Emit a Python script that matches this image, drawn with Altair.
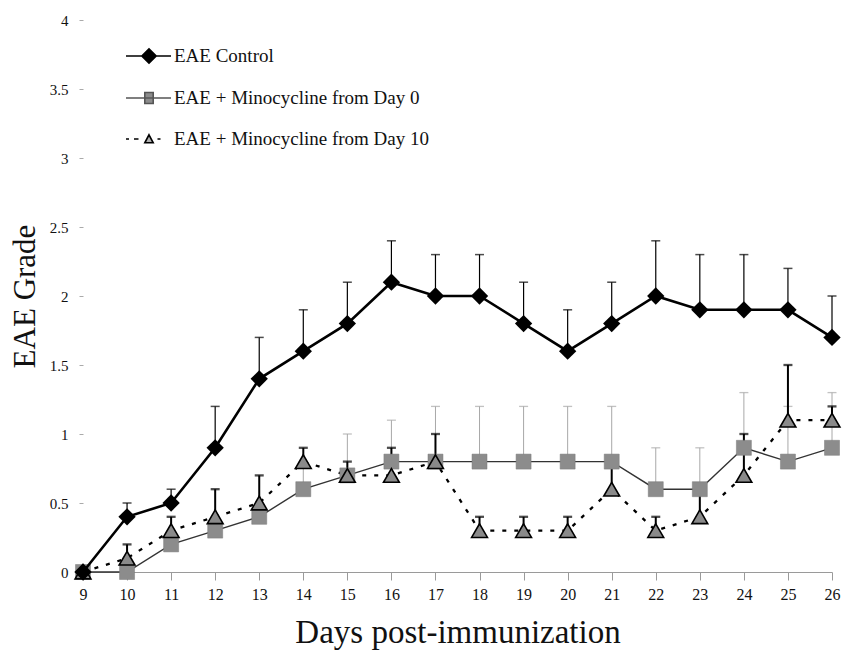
import altair as alt
import pandas as pd

days = list(range(9, 27))
control = [0, 0.4, 0.5, 0.9, 1.4, 1.6, 1.8, 2.1, 2.0, 2.0, 1.8, 1.6, 1.8, 2.0, 1.9, 1.9, 1.9, 1.7]
control_up = [None, 0.5, 0.6, 1.2, 1.7, 1.9, 2.1, 2.4, 2.3, 2.3, 2.1, 1.9, 2.1, 2.4, 2.3, 2.3, 2.2, 2.0]
mino0 = [0, 0, 0.2, 0.3, 0.4, 0.6, 0.7, 0.8, 0.8, 0.8, 0.8, 0.8, 0.8, 0.6, 0.6, 0.9, 0.8, 0.9]
mino0_up = [None, None, None, None, None, 0.8, 1.0, 1.1, 1.2, 1.2, 1.2, 1.2, 1.2, 0.9, 0.9, 1.3, 1.2, 1.3]
mino10 = [0, 0.1, 0.3, 0.4, 0.5, 0.8, 0.7, 0.7, 0.8, 0.3, 0.3, 0.3, 0.6, 0.3, 0.4, 0.7, 1.1, 1.1]
mino10_up = [None, 0.2, 0.4, 0.6, 0.7, 0.9, 0.8, 0.9, 1.0, 0.4, 0.4, 0.4, 0.8, 0.4, 0.6, 1.0, 1.5, 1.2]

series_names = ["EAE Control", "EAE + Minocycline from Day 0", "EAE + Minocycline from Day 10"]
y_ticks = [0, 0.5, 1, 1.5, 2, 2.5, 3, 3.5, 4]

rows = []
for name, vals, ups in zip(series_names, [control, mino0, mino10], [control_up, mino0_up, mino10_up]):
    for d, v, u in zip(days, vals, ups):
        rows.append({"series": name, "day": d, "grade": v, "upper": u})
df = pd.DataFrame(rows)

FONT = "Liberation Serif, Times New Roman, serif"

x_enc = alt.X("day:Q", scale=alt.Scale(domain=[9, 26], nice=False, zero=False),
              axis=alt.Axis(values=days, title="Days post-immunization", grid=False,
                            domainColor="#9a9a9a", tickColor="#9a9a9a", tickSize=8,
                            labelPadding=6, labelFont=FONT, labelFontSize=16, labelColor="#111",
                            titleFont=FONT, titleFontSize=33, titleFontWeight="normal",
                            titleColor="#111", titlePadding=14, labelFlush=False))
y_enc = alt.Y("grade:Q", scale=alt.Scale(domain=[0, 4], nice=False),
              axis=alt.Axis(values=y_ticks, format="~g", title="EAE Grade", grid=False,
                            domain=False, tickColor="#aaaaaa", tickSize=4, labelPadding=11,
                            labelFont=FONT, labelFontSize=15, labelColor="#111",
                            titleFont=FONT, titleFontSize=31, titleFontWeight="normal",
                            titleColor="#111", titlePadding=8))

base = alt.Chart(df)


def err_layers(name, color, width):
    src = base.transform_filter(alt.datum.series == name).transform_filter("isValid(datum.upper)")
    rule = src.mark_rule(color=color, strokeWidth=width).encode(
        x=x_enc, y=y_enc, y2="upper:Q")
    cap = src.mark_tick(color=color, thickness=width + 0.3, size=9, orient="horizontal").encode(
        x=x_enc, y=alt.Y("upper:Q"))
    return [rule, cap]


def line_layer(name, **kw):
    return base.transform_filter(alt.datum.series == name).mark_line(**kw).encode(x=x_enc, y=y_enc)


def point_layer(name, **kw):
    return base.transform_filter(alt.datum.series == name).mark_point(**kw).encode(x=x_enc, y=y_enc)


sq, tri, ctl = series_names[1], series_names[2], series_names[0]

layers = []
layers += err_layers(sq, "#a8a8a8", 1.0)
layers.append(line_layer(sq, color="#333333", strokeWidth=1.4))
layers += err_layers(tri, "#000000", 2.0)
layers.append(line_layer(tri, color="#000000", strokeWidth=2.3, strokeDash=[4, 8]))
layers.append(point_layer(sq, shape="square", filled=True, size=225, fill="#8c8c8c",
                          stroke="#7a7a7a", strokeWidth=0.5, opacity=1))
layers.append(point_layer(tri, shape="triangle-up", filled=True, size=250, fill="#8a8a8a",
                          stroke="#000000", strokeWidth=1.6, opacity=1))
layers += err_layers(ctl, "#000000", 1.2)
layers.append(line_layer(ctl, color="#000000", strokeWidth=2.6))
layers.append(point_layer(ctl, shape="diamond", filled=True, size=300, color="#000000", opacity=1))

# legend-only layer (no visible marks): symbols combine line segment and marker
legend_shapes = [
    "M-2.3,0H2.2M-0.72,0L0,-0.72L0.72,0L0,0.72Z",
    "M-2.3,0H2.2M-0.42,-0.55H0.42V0.55H-0.42Z",
    "M-2.3,0H-2.0M-1.5,0H-1.05M0.85,0H1.15M0,-0.42L0.42,0.38L-0.42,0.38Z",
]
leg = alt.Legend(title=None, orient="none", legendX=55, legendY=25,
                 symbolSize=400, symbolStrokeWidth=1.6, rowPadding=20,
                 labelOffset=14, labelFont=FONT, labelFontSize=19,
                 labelColor="#111", padding=0, labelLimit=400)
legend_layer = base.transform_filter("false").mark_point(opacity=1).encode(
    x=x_enc, y=y_enc,
    shape=alt.Shape("series:N", scale=alt.Scale(domain=series_names, range=legend_shapes), legend=leg),
    fill=alt.Fill("series:N", scale=alt.Scale(domain=series_names,
                                              range=["#000000", "#8c8c8c", "#b0b0b0"]), legend=leg),
    stroke=alt.Stroke("series:N", scale=alt.Scale(domain=series_names,
                                                  range=["#000000", "#555555", "#000000"]), legend=leg),
)
layers.append(legend_layer)

chart = alt.layer(*layers).properties(
    width=749, height=552,
    autosize=alt.AutoSizeParams(type="none"),
    padding={"left": 83, "top": 20, "right": 13, "bottom": 83},
    background="white",
).configure_view(stroke=None).configure_axis(
    ticks=True, labelFont=FONT, titleFont=FONT
).configure_legend(labelFont=FONT)

chart.save("out.html", embed_options={"renderer": "svg", "actions": False})
